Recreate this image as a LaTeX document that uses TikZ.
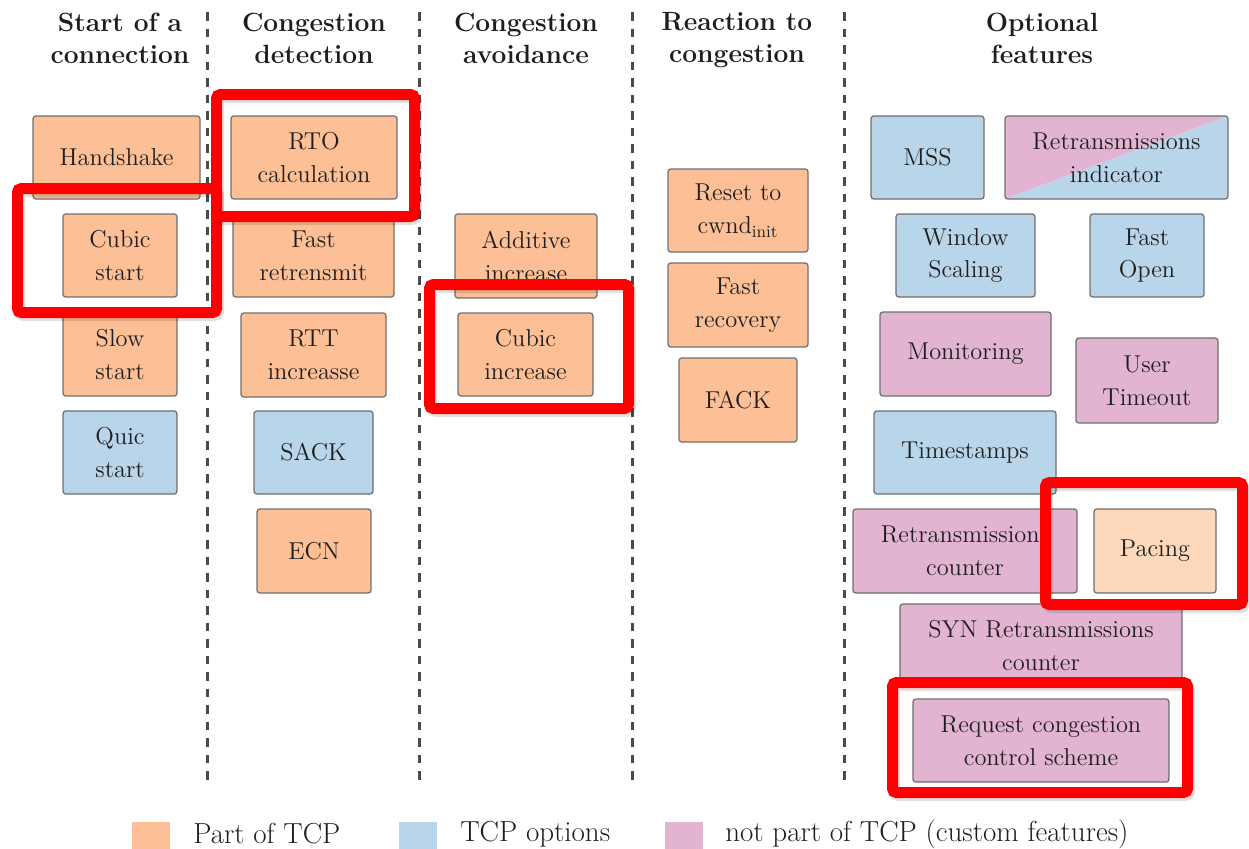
\documentclass[tikz,border=0pt]{standalone}
\usepackage{tikz}
\definecolor{tcporange}{HTML}{FDBF95}
\definecolor{tcpblue}{HTML}{B9D5EA}
\definecolor{custompink}{HTML}{E3B4D2}
\definecolor{pacingpeach}{HTML}{FDD8BB}
\definecolor{boxedge}{HTML}{6E6E6E}
\definecolor{inkdark}{HTML}{1E1E1E}
\newdimen\pxu \pxu=0.02cm
% feature box given by its corners: name, x1, y1, x2, y2, style, text
\newcommand\feat[7]{\node[feature,#6,minimum width={(#4-#2)*\pxu},minimum height={(#5-#3)*\pxu}] (#1) at ({(#2+#4)/2},{(#3+#5)/2}) {#7};}
% red highlight frame given by the centre line of its stroke
\newcommand\hilite[5]{%
  \draw[hilite shadow] ({#2+2},{#3+3}) rectangle ({#4+2},{#5+3});
  \node[hilite frame,minimum width={(#4-#2)*\pxu},minimum height={(#5-#3)*\pxu}] (#1) at ({(#2+#4)/2},{(#3+#5)/2}) {};}
\tikzset{
  feature/.style={draw=boxedge,line width=0.7pt,rounded corners=1.6pt,inner sep=0pt,
    align=center,text=inkdark,font=\fontsize{13.9}{18.7}\selectfont},
  tcp/.style={fill=tcporange},
  opt/.style={fill=tcpblue},
  custom/.style={fill=custompink},
  pacing/.style={fill=pacingpeach},
  split/.style={path picture={
      \fill[custompink] (path picture bounding box.north west) -- (path picture bounding box.north east)
        -- (path picture bounding box.south west) -- cycle;
      \fill[tcpblue] (path picture bounding box.north east) -- (path picture bounding box.south east)
        -- (path picture bounding box.south west) -- cycle;}},
  header/.style={align=center,text=inkdark,font=\fontsize{15}{18.2}\selectfont\bfseries},
  sepline/.style={draw=inkdark!80,line width=3\pxu,dash pattern=on 8.5\pxu off 8\pxu},
  hilite frame/.style={draw=red,line width=11\pxu,rounded corners=4\pxu,inner sep=0pt},
  hilite shadow/.style={draw=black,opacity=0.12,line width=11\pxu,rounded corners=4\pxu},
  swatch/.style={inner sep=0pt,minimum width=38\pxu,minimum height=27\pxu},
  legendtext/.style={anchor=west,text=inkdark,inner sep=0pt,font=\fontsize{16.5}{19}\selectfont},
}
\begin{document}
\begin{tikzpicture}[x=0.02cm,y=-0.02cm]
\useasboundingbox (0,0) rectangle (1249,849);

% column separators
\foreach \i/\xx in {1/207,2/419,3/632,4/844}{
  \coordinate (sep\i top) at (\xx,12);
  \coordinate (sep\i bot) at (\xx,782);
  \draw[sepline] (sep\i top) -- (sep\i bot);
}

% column headings
\node[header] (h1) at (120,38) {Start of a\\connection};
\node[header] (h2) at (314,38) {Congestion\\detection};
\node[header] (h3) at (526,38) {Congestion\\avoidance};
\node[header] (h4) at (737,40.5) {Reaction to\\congestion};
\node[header] (h5) at (1042,38) {Optional\\features};

% start of a connection
\feat{hand}{33}{116}{200}{199}{tcp}{Handshake}
\feat{cubs}{63}{214}{177}{297}{tcp}{Cubic\\start}
\feat{slow}{63}{313}{177}{396}{tcp}{Slow\\start}
\feat{quic}{63}{411}{177}{494}{opt}{Quic\\start}

% congestion detection
\feat{rto}{231}{116}{397}{199}{tcp}{RTO\\calculation}
\feat{fret}{233}{214}{394}{297}{tcp}{Fast\\retrensmit}
\feat{rtt}{241}{313}{386}{397}{tcp}{RTT\\increasse}
\feat{sack}{254}{411}{373}{494}{opt}{SACK}
\feat{ecn}{257}{509}{371}{593}{tcp}{ECN}

% congestion avoidance
\feat{addi}{455}{214}{597}{298}{tcp}{Additive\\increase}
\feat{cubi}{458}{313}{593}{396}{tcp}{Cubic\\increase}

% reaction to congestion
\feat{reset}{668}{169}{808}{252}{tcp}{Reset to\\cwnd\textsubscript{init}}
\feat{frec}{668}{263}{808}{347}{tcp}{Fast\\recovery}
\feat{fack}{679}{358}{797}{442}{tcp}{FACK}

% optional features
\feat{mss}{871}{116}{984}{199}{opt}{MSS}
\feat{rind}{1005}{116}{1228}{199}{split}{Retransmissions\\indicator}
\feat{wsc}{896}{214}{1035}{297}{opt}{Window\\Scaling}
\feat{fopen}{1090}{214}{1204}{297}{opt}{Fast\\Open}
\feat{mon}{880}{312}{1051}{396}{custom}{Monitoring}
\feat{uto}{1076}{338}{1218}{423}{custom}{User\\Timeout}
\feat{tst}{874}{411}{1056}{494}{opt}{Timestamps}
\feat{rcnt}{853}{509}{1077}{593}{custom}{Retransmissions\\counter}
\feat{pace}{1094}{509}{1216}{593}{pacing}{Pacing}
\feat{syn}{900}{604}{1182}{687}{custom}{SYN Retransmissions\\counter}
\feat{req}{913}{699}{1169}{782}{custom}{Request congestion\\control scheme}

% highlighted features
\hilite{hl1}{17.5}{188.5}{216.5}{312.5}
\hilite{hl2}{216.5}{94.5}{414.5}{216.5}
\hilite{hl3}{429.5}{284.5}{628.5}{408.5}
\hilite{hl4}{1045.5}{482.5}{1242.5}{604.5}
\hilite{hl5}{892.5}{682.5}{1187.5}{792.5}

% legend
\node[swatch,fill=tcporange] (lg1) at (151,835) {};
\node[legendtext] (lt1) at (193,834) {Part of TCP};
\node[swatch,fill=tcpblue] (lg2) at (418,835) {};
\node[legendtext] (lt2) at (460,834) {TCP options};
\node[swatch,fill=custompink] (lg3) at (684,835) {};
\node[legendtext] (lt3) at (725,834) {not part of TCP (custom features)};
\end{tikzpicture}
\end{document}
